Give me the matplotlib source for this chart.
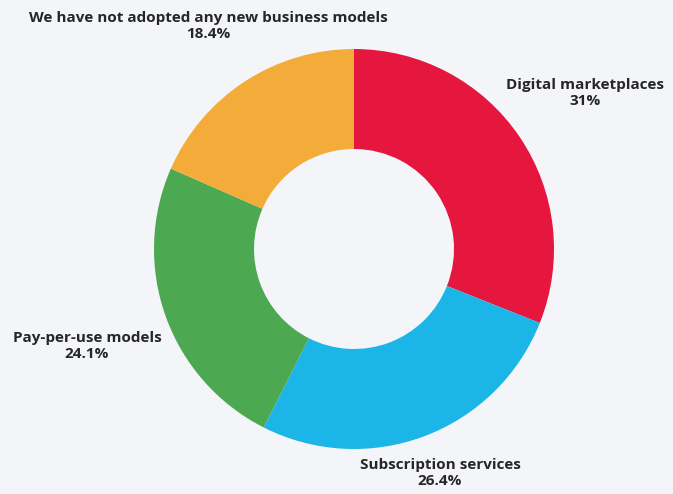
import matplotlib
matplotlib.use("Agg")
import matplotlib.pyplot as plt

# Share of firms by new business model adopted
labels = [
    "Digital marketplaces",
    "Subscription services",
    "Pay-per-use models",
    "We have not adopted any new business models",
]
values = [31, 26.4, 24.1, 18.4]
value_text = ["31%", "26.4%", "24.1%", "18.4%"]
colors = ["#E5173F", "#1BB6E7", "#4CA851", "#F3AC3A"]

# Label anchors (pixel centres of the two-line labels)
label_px = [(585, 93), (440, 473), (87, 346), (208, 26)]

BG = "#F3F5F9"
W, H = 673, 494
CX, CY, R = 354, 249, 200

fig = plt.figure(figsize=(W / 100, H / 100), dpi=100, facecolor=BG)
ax = fig.add_axes([0, 0, 1, 1])
ax.set_facecolor(BG)

ax.pie(
    values,
    colors=colors,
    startangle=90,
    counterclock=False,
    radius=1.0,
    wedgeprops=dict(width=0.5, edgecolor="none", antialiased=True),
)

for (px, py), name, pct in zip(label_px, labels, value_text):
    ax.text(
        (px - CX) / R, (CY - py) / R, f"{name}\n{pct}",
        ha="center", va="center", fontsize=11, fontweight="bold",
        family="Open Sans", color="#262626", linespacing=1.25,
    )

ax.set_xlim(-CX / R, (W - CX) / R)
ax.set_ylim(-(H - CY) / R, CY / R)
ax.set_aspect("equal")
ax.axis("off")

fig.savefig("out.png", dpi=100, facecolor=BG)
